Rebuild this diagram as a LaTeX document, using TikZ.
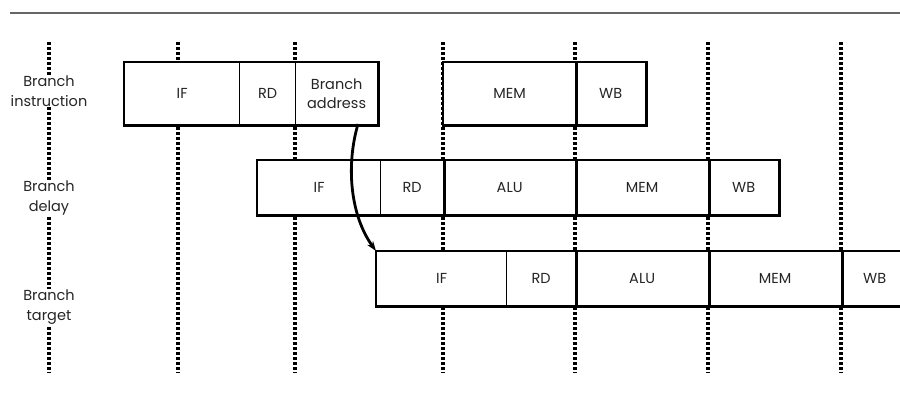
\documentclass[tikz,border=0pt]{standalone}
\usepackage{fontspec}
\setmainfont{Poppins}
\usetikzlibrary{arrows.meta}
\begin{document}
\begin{tikzpicture}[x=1pt,y=-1pt,
  cell/.style={draw, line width=1.3pt, fill=white, anchor=north west, inner sep=0pt,
    font=\fontsize{14.5}{19}\selectfont, text=black!85, align=center},
  outer/.style={line width=2.6pt},
  sep/.style={line width=2.6pt},
  dotline/.style={line width=3.4pt, dash pattern=on 3pt off 2pt},
  lab/.style={fill=white, inner sep=0.5pt, align=center, font=\fontsize{14.5}{20}\selectfont, text=black!85}]
\useasboundingbox (0,0) rectangle (900,394);
\draw[line width=1.6pt, black!60] (10,13) -- (900,13);
% dotted time lines
\foreach \x/\n in {49/a,178/b,295/c,443/d,575/e,708/f,841/g}{
  \coordinate (t\n) at (\x,42);
  \coordinate (b\n) at (\x,373);
  \draw[dotline] (t\n) -- (b\n);
}
% labels
\node[lab] (l1) at (49,91) {Branch\\instruction};
\node[lab] (l2) at (49,198) {Branch\\delay};
\node[lab] (l3) at (49,307) {Branch\\target};
% row 1
\node[cell, minimum width=115pt, minimum height=62pt] (r1if) at (124,62) {IF};
\node[cell, minimum width=56pt, minimum height=62pt] (r1rd) at (239,62) {RD};
\node[cell, minimum width=82pt, minimum height=62pt] (r1ba) at (295,62) {Branch\\address};
\draw[outer] (r1if.north west) rectangle (r1ba.south east);
\node[cell, minimum width=132pt, minimum height=62pt] (r1mem) at (443,62) {MEM};
\node[cell, minimum width=70pt, minimum height=62pt] (r1wb) at (575,62) {WB};
\draw[outer] (r1mem.north west) rectangle (r1wb.south east);
\draw[sep] (r1mem.north east) -- (r1mem.south east);
% row 2
\node[cell, minimum width=123pt, minimum height=54pt] (r2if) at (257,160) {IF};
\node[cell, minimum width=63pt, minimum height=54pt] (r2rd) at (380,160) {RD};
\node[cell, minimum width=132pt, minimum height=54pt] (r2alu) at (443,160) {ALU};
\node[cell, minimum width=133pt, minimum height=54pt] (r2mem) at (575,160) {MEM};
\node[cell, minimum width=70pt, minimum height=54pt] (r2wb) at (708,160) {WB};
\draw[outer] (r2if.north west) rectangle (r2wb.south east);
\foreach \c in {r2rd,r2alu,r2mem}{\draw[sep] (\c.north east) -- (\c.south east);}
% row 3
\node[cell, minimum width=130pt, minimum height=54pt] (r3if) at (376,251) {IF};
\node[cell, minimum width=69pt, minimum height=54pt] (r3rd) at (506,251) {RD};
\node[cell, minimum width=133pt, minimum height=54pt] (r3alu) at (575,251) {ALU};
\node[cell, minimum width=133pt, minimum height=54pt] (r3mem) at (708,251) {MEM};
\node[cell, minimum width=66pt, minimum height=54pt] (r3wb) at (841,251) {WB};
\draw[outer] (r3wb.north east) -- (r3if.north west) -- (r3if.south west) -- (r3wb.south east);
\foreach \c in {r3rd,r3alu,r3mem}{\draw[sep] (\c.north east) -- (\c.south east);}
% arrow
\coordinate (as) at (358,124);
\draw[line width=2.8pt, -{Stealth[length=10pt,width=7pt]}] (as) .. controls (346,165) and (350,215) .. (r3if.north west);
\end{tikzpicture}
\end{document}
